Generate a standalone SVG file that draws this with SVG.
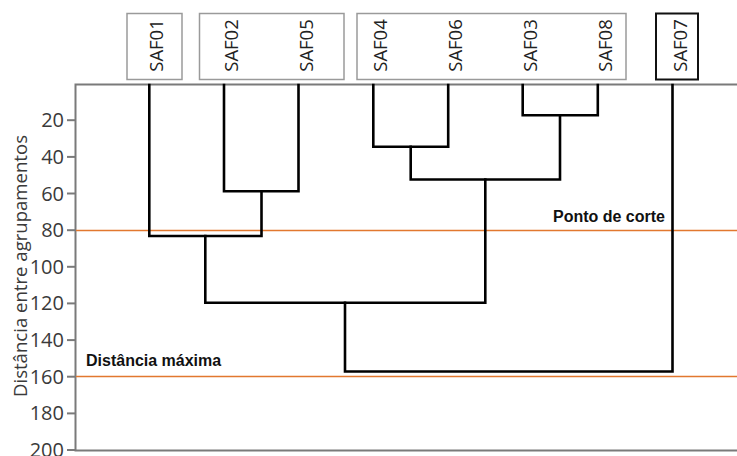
<svg xmlns="http://www.w3.org/2000/svg" width="737" height="456" viewBox="0 0 737 456">
<style>
.axis{stroke:#7a7a7a;stroke-width:2;fill:none}
.tick{font-family:"Open Sans","DejaVu Sans",sans-serif;font-size:20px;fill:#3a3a3a;text-anchor:end}
.leaf{font-family:"Open Sans","DejaVu Sans",sans-serif;font-size:18.5px;fill:#222;text-anchor:middle}
.box{fill:#fff;stroke:#9a9a9a;stroke-width:1.5}
.box7{fill:#fff;stroke:#111;stroke-width:2}
.den{stroke:#000;stroke-width:2.6;fill:none;stroke-linejoin:miter;stroke-linecap:square}
.ref{stroke:#E2782F;stroke-width:1.6}
.note{font-family:"Liberation Sans",Arial,sans-serif;font-size:16px;font-weight:bold;fill:#111}
</style>
<rect width="737" height="456" fill="#fff"/>
<g id="axes">
<path class="axis" d="M737 84.5H75.5V450.5H737"/>
<g stroke="#7a7a7a" stroke-width="2">
<line x1="67" y1="120.2" x2="75" y2="120.2"/>
<line x1="67" y1="156.9" x2="75" y2="156.9"/>
<line x1="67" y1="193.5" x2="75" y2="193.5"/>
<line x1="67" y1="230.2" x2="75" y2="230.2"/>
<line x1="67" y1="266.8" x2="75" y2="266.8"/>
<line x1="67" y1="303.4" x2="75" y2="303.4"/>
<line x1="67" y1="340.1" x2="75" y2="340.1"/>
<line x1="67" y1="376.7" x2="75" y2="376.7"/>
<line x1="67" y1="413.4" x2="75" y2="413.4"/>
<line x1="67" y1="450" x2="75" y2="450"/>
</g>
<text class="tick" x="64" y="127.2">20</text>
<text class="tick" x="64" y="163.9">40</text>
<text class="tick" x="64" y="200.5">60</text>
<text class="tick" x="64" y="237.2">80</text>
<text class="tick" x="64" y="273.8">100</text>
<text class="tick" x="64" y="310.4">120</text>
<text class="tick" x="64" y="347.1">140</text>
<text class="tick" x="64" y="383.7">160</text>
<text class="tick" x="64" y="420.4">180</text>
<text class="tick" x="64" y="457">200</text>
<text font-family="'Open Sans','DejaVu Sans',sans-serif" font-size="18.5" fill="#3a3a3a" text-anchor="middle" transform="translate(27 266) rotate(-90)" textLength="262" lengthAdjust="spacingAndGlyphs">Distância entre agrupamentos</text>
</g>
<g id="reference-lines">
<line class="ref" x1="76" y1="230.5" x2="737" y2="230.5"/>
<line class="ref" x1="76" y1="376.5" x2="737" y2="376.5"/>
<text class="note" x="665" y="222" text-anchor="end">Ponto de corte</text>
<text class="note" x="86" y="366">Distância máxima</text>
</g>
<g id="connectors">
<path class="den" d="M224 85V191.3H298.5V85"/>
<path class="den" d="M149.3 85V236H261.5V191.3"/>
<path class="den" d="M373.3 85V146.7H448.2V85"/>
<path class="den" d="M522.7 85V115.3H597.8V85"/>
<path class="den" d="M410.7 146.7V179.5H560V115.3"/>
<path class="den" d="M205.3 236V302.7H485.3V179.5"/>
<path class="den" d="M345 302.7V371.5H672.5V85"/>
</g>
<g id="group-SAF01">
<rect class="box" x="127" y="13.5" width="55" height="66"/>
<text class="leaf" transform="translate(163 45.5) rotate(-90)">SAF01</text>
</g>
<g id="group-SAF02-SAF05">
<rect class="box" x="199.5" y="13.5" width="144.5" height="66"/>
<text class="leaf" transform="translate(238 45.5) rotate(-90)">SAF02</text>
<text class="leaf" transform="translate(312.7 45.5) rotate(-90)">SAF05</text>
</g>
<g id="group-SAF04-SAF08">
<rect class="box" x="357" y="13.5" width="269" height="66"/>
<text class="leaf" transform="translate(387.3 45.5) rotate(-90)">SAF04</text>
<text class="leaf" transform="translate(462.2 45.5) rotate(-90)">SAF06</text>
<text class="leaf" transform="translate(536.7 45.5) rotate(-90)">SAF03</text>
<text class="leaf" transform="translate(611.8 45.5) rotate(-90)">SAF08</text>
</g>
<g id="group-SAF07">
<rect class="box7" x="656" y="13.5" width="42" height="66"/>
<text class="leaf" transform="translate(686.5 45.5) rotate(-90)">SAF07</text>
</g>
</svg>
